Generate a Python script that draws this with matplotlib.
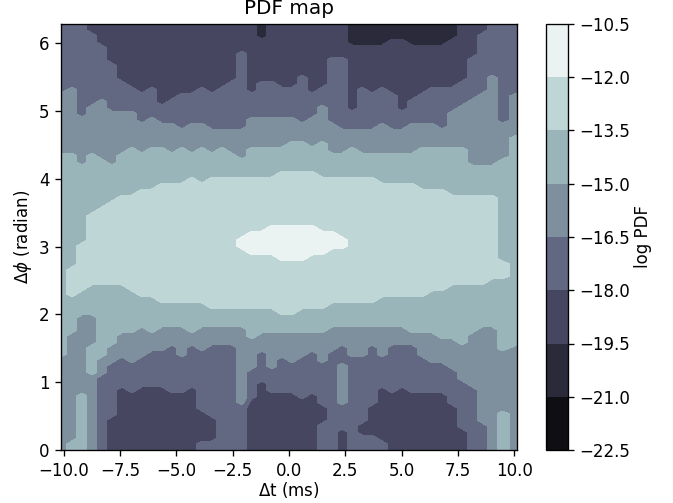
import numpy as np
import matplotlib
matplotlib.use('Agg')
import matplotlib.pyplot as plt

levels = np.arange(-22.5, -10.4, 1.5)
cbar_ticks = levels
n_rows = 72

# log PDF band seen at each grid point, one entry per column (left to right),
# each column read top to bottom as band, row where the next band starts, band, ...
band_cols = [
    [3,12,4,22,5,56,4],
    [3,11,4,22,5,41,6,46,5,52,4,70,5],
    [3,16,4,24,5,37,6,45,5,49,4,62,5],
    [2,2,3,14,4,22,5,32,6,44,5,49,4,54,5,59,4],
    [2,4,3,13,4,23,5,31,6,44,5,56,4,59,3],
    [2,7,3,15,4,24,5,30,6,44,5,54,4,57,3,66,2],
    [2,10,3,15,4,22,5,29,6,44,5,52,4,56,3,61,2],
    [2,11,3,15,4,21,5,29,6,45,5,52,4,57,3,62,2],
    [2,12,3,17,4,22,5,28,6,46,5,51,4,56,3,61,2],
    [2,11,3,16,4,21,5,28,6,46,5,52,4,55,3,61,2],
    [2,14,3,17,4,21,5,27,6,47,5,51,4,55,3,61,2],
    [2,13,3,17,4,22,5,27,6,47,5,51,4,54,3,62,2],
    [2,12,3,18,4,21,5,27,6,47,5,51,4,56,3,62,2],
    [2,12,3,17,4,22,5,26,6,47,5,52,4,54,3,61,2],
    [2,11,3,17,4,21,5,27,6,47,5,51,4,55,3,65,2,70,3],
    [2,12,3,18,4,22,5,26,6,48,5,51,4,54,3,66,2,70,3],
    [2,11,3,18,4,21,5,26,6,48,5,51,4,54,3],
    [2,10,3,18,4,22,5,26,6,48,5,51,4,54,3],
    [2,5,3,18,4,23,5,26,6,36,7,38,6,48,5,51,4,64,3],
    [2,12,3,16,4,21,5,26,6,35,7,39,6,48,5,53,4,58,3,63,2],
    [1,3,2,10,3,16,4,21,5,26,6,35,7,39,6,48,5,52,4,55,3,60,2],
    [2,10,3,16,4,21,5,26,6,34,7,39,6,48,5,52,4,58,3,62,2],
    [2,11,3,16,4,21,5,25,6,34,7,40,6,49,5,52,4,56,3,62,2],
    [2,11,3,16,4,20,5,25,6,34,7,40,6,49,5,52,4,57,3,62,2],
    [2,9,3,17,4,20,5,25,6,34,7,40,6,48,5,52,4,56,3,63,2],
    [2,12,3,16,4,21,5,25,6,34,7,39,6,48,5,52,4,55,3,62,2],
    [2,11,3,14,4,20,5,26,6,35,7,39,6,48,5,52,4,57,3,64,2,67,3],
    [2,6,3,17,4,22,5,26,6,35,7,38,6,47,5,51,4,55,3],
    [2,6,3,18,4,22,5,26,6,36,7,38,6,47,5,51,4,54,3,57,4,64,3,68,2],
    [1,4,2,15,3,18,4,21,5,26,6,47,5,51,4,56,3],
    [1,4,2,11,3,18,4,22,5,26,6,47,5,51,4,56,3,67,2,69,3],
    [1,4,2,12,3,18,4,22,5,26,6,47,5,51,4,54,3,64,2,69,3],
    [1,4,2,11,3,17,4,22,5,27,6,46,5,51,4,56,3,61,2,70,3],
    [1,3,2,12,3,18,4,22,5,27,6,46,5,51,4,54,3,62,2],
    [1,3,2,15,3,18,4,22,5,27,6,46,5,51,4,54,3,61,2],
    [1,4,2,13,3,17,4,22,5,27,6,46,5,52,4,54,3,62,2],
    [1,4,2,12,3,17,4,21,5,28,6,46,5,52,4,56,3,62,2],
    [1,4,2,11,3,17,4,21,5,28,6,45,5,52,4,57,3,62,2],
    [1,4,2,11,3,18,4,21,5,28,6,45,5,53,4,57,3,62,2],
    [1,3,2,11,3,15,4,21,5,29,6,44,5,53,4,58,3,64,2],
    [2,10,3,14,4,21,5,29,6,44,5,54,4,60,3,68,2],
    [2,6,3,13,4,24,5,29,6,44,5,52,4,61,3],
    [2,2,3,12,4,24,5,29,6,44,5,51,4,67,3],
    [3,9,4,24,5,29,6,43,5,51,4],
    [3,17,4,23,5,40,6,43,5,55,4,65,5],
    [3,12,4,19,5,54,4],
]


def expand_col(col):
    out = np.zeros(n_rows, dtype=int)
    start = 0
    for band, stop in zip(col[0::2], col[1::2] + [n_rows]):
        out[start:stop] = band
        start = stop
    return out


def main():
    bands = np.array([expand_col(col) for col in band_cols]).T
    z = levels[bands] + 0.75

    t = (62 + 10*np.arange(bands.shape[1]) - 289)/22.5
    t[0] = -10.13
    t[-1] = 10.13
    phi = np.linspace(2*np.pi, 0, n_rows)

    fig = plt.figure(figsize=(673/120, 503/120), dpi=120)
    ax = fig.add_axes([61/673, 1 - 450/503, 456/673, 426/503])
    cax = fig.add_axes([546/673, 1 - 450/503, 22/673, 426/503])

    cs = ax.contourf(t, phi, z, levels=levels, cmap='bone')
    ax.set_xlim(-10.13, 10.13)
    ax.set_ylim(0, 2*np.pi)
    ax.set_title('PDF map')
    ax.set_xlabel(r'$\Delta$t (ms)', labelpad=0)
    ax.set_ylabel(r'$\Delta\phi$ (radian)', labelpad=2.8)

    cb = fig.colorbar(cs, cax=cax, ticks=cbar_ticks)
    cb.set_label('log PDF', labelpad=2.2)

    fig.savefig('out.png', dpi=120)


if __name__ == "__main__":
    main()
